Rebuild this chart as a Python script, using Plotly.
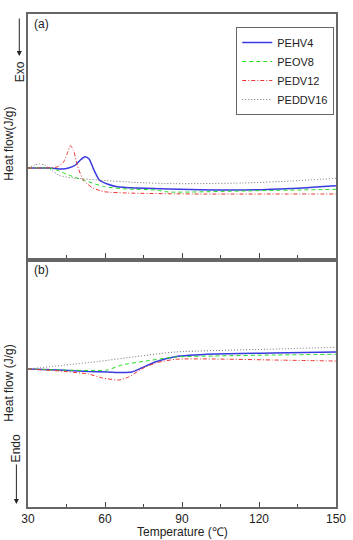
import plotly.graph_objects as go

# ---- data (arbitrary heat-flow units) ----
series_names = ["PEHV4", "PEOV8", "PEDV12", "PEDDV16"]

# panel (a): cooling / exo
a_T_PEHV4 = [30, 38.3, 43.2, 45.8, 48.5, 50.4, 52.2, 53.8, 55.7, 57.8, 60.9, 64.7, 72.3, 84.7, 114.9, 132.6, 150]
a_y_PEHV4 = [0, 0, -0.1, 0, 0.3, 0.8, 1.13, 0.9, -0.2, -1.2, -1.6, -1.87, -2.0, -2.1, -2.2, -2.05, -1.77]

a_T_PEOV8 = [30, 39.4, 45.8, 51.5, 59.8, 68.5, 79.8, 84.7, 113.0, 150]
a_y_PEOV8 = [0, -0.05, -0.7, -1.2, -1.87, -2.1, -2.2, -2.4, -2.3, -2.13]

a_T_PEDV12 = [30, 36.4, 41.3, 43.6, 45.1, 46.5, 47.7, 49.2, 51.5, 55.3, 59.8, 68.5, 94.9, 132.6, 150]
a_y_PEDV12 = [0, 0, 0.1, 0.5, 1.3, 2.23, 1.8, 0.3, -1.2, -2.0, -2.37, -2.5, -2.6, -2.6, -2.6]

a_T_PEDDV16 = [30, 32.6, 34.5, 36.4, 39.1, 42.1, 47.7, 57.2, 72.3, 87.4, 113.8, 132.6, 150]
a_y_PEDDV16 = [0, 0.3, 0.4, 0.3, -0.2, -0.75, -1.0, -1.2, -1.45, -1.57, -1.5, -1.3, -1.03]

# panel (b): heating / endo
b_T_PEHV4 = [30, 42.1, 53.4, 60.9, 66.6, 70.4, 74.2, 79.8, 87.4, 102.5, 125.1, 150]
b_y_PEHV4 = [0, -0.1, -0.25, -0.3, -0.35, -0.3, 0.1, 0.73, 1.23, 1.5, 1.6, 1.7]

b_T_PEOV8 = [30, 42.1, 57.2, 60.9, 66.6, 76.0, 87.4, 102.5, 125.1, 150]
b_y_PEOV8 = [0, -0.1, -0.15, -0.1, 0.4, 0.8, 1.2, 1.3, 1.4, 1.47]

b_T_PEDV12 = [30, 42.1, 53.4, 59.1, 65.4, 69.2, 74.2, 79.8, 87.4, 102.5, 125.1, 150]
b_y_PEDV12 = [0, -0.2, -0.5, -0.9, -1.1, -0.8, 0, 0.6, 0.97, 1.0, 0.9, 0.8]

b_T_PEDDV16 = [30, 57.2, 72.3, 87.4, 122.5, 150]
b_y_PEDDV16 = [0, 0.75, 1.25, 1.7, 1.97, 2.17]

x_ticks = [30, 60, 90, 120, 150]

# ---- styles ----
styles = {
    "PEHV4": dict(color="#3a3ae0", width=1.5, dash="solid"),
    "PEOV8": dict(color="#22dd22", width=1.0, dash="4px,3px"),
    "PEDV12": dict(color="#ee3333", width=1.0, dash="4px,2px,1px,2px"),
    "PEDDV16": dict(color="#707070", width=1.0, dash="1px,2px"),
}

a_data = {
    "PEHV4": (a_T_PEHV4, a_y_PEHV4),
    "PEOV8": (a_T_PEOV8, a_y_PEOV8),
    "PEDV12": (a_T_PEDV12, a_y_PEDV12),
    "PEDDV16": (a_T_PEDDV16, a_y_PEDDV16),
}
b_data = {
    "PEHV4": (b_T_PEHV4, b_y_PEHV4),
    "PEOV8": (b_T_PEOV8, b_y_PEOV8),
    "PEDV12": (b_T_PEDV12, b_y_PEDV12),
    "PEDDV16": (b_T_PEDDV16, b_y_PEDDV16),
}

fig = go.Figure()
for name in series_names:
    x, y = a_data[name]
    fig.add_trace(go.Scatter(x=x, y=y, mode="lines", name=name,
                             line=dict(shape="spline", smoothing=0.6, **styles[name]),
                             xaxis="x", yaxis="y", showlegend=True))
for name in series_names:
    x, y = b_data[name]
    fig.add_trace(go.Scatter(x=x, y=y, mode="lines", name=name,
                             line=dict(shape="spline", smoothing=0.6, **styles[name]),
                             xaxis="x2", yaxis="y2", showlegend=False))

W, H = 353, 540
ml, mr, mt, mb = 28, 7, 14, 33
pw, ph = W - ml - mr, H - mt - mb

def px(xp):
    return (xp - ml) / pw

def py(yp):
    return (H - mb - yp) / ph

axis_common = dict(showline=True, linecolor="#666666", linewidth=1.5, mirror=True,
                   showgrid=False, zeroline=False)
xcommon = dict(axis_common, range=[30, 150], tickvals=x_ticks, ticks="inside",
               ticklen=5, tickwidth=1, tickcolor="#444444",
               minor=dict(tickvals=[45, 75, 105, 135], ticks="inside", ticklen=3,
                          tickwidth=1, tickcolor="#444444"))

top_dom = [py(258), 1]
bot_dom = [0, py(262)]

fig.update_layout(
    width=W, height=H,
    margin=dict(l=ml, r=mr, t=mt, b=mb),
    paper_bgcolor="white", plot_bgcolor="white",
    font=dict(family="Liberation Sans, Arial, sans-serif", size=12, color="#222222"),
    xaxis=dict(xcommon, anchor="y", showticklabels=False),
    yaxis=dict(axis_common, domain=top_dom, range=[-9.0, 15.4], showticklabels=False, ticks=""),
    xaxis2=dict(xcommon, anchor="y2", showticklabels=True, ticklabeloverflow="allow",
                tickfont=dict(size=12, color="#222222")),
    yaxis2=dict(axis_common, domain=bot_dom, range=[-13.8, 10.7], showticklabels=False, ticks=""),
    legend=dict(x=px(243), y=py(27), xanchor="left", yanchor="top",
                bordercolor="#666666", borderwidth=1, bgcolor="white",
                font=dict(size=11, color="#222222"), tracegroupgap=0,
                itemwidth=30),
    showlegend=True,
)

ann = []
ann.append(dict(text="(a)", x=px(32), y=py(24), xref="paper", yref="paper",
                xanchor="left", yanchor="middle", showarrow=False, font=dict(size=12)))
ann.append(dict(text="(b)", x=px(32), y=py(270), xref="paper", yref="paper",
                xanchor="left", yanchor="middle", showarrow=False, font=dict(size=12)))
ann.append(dict(text="Temperature (℃)", x=0.5, y=py(532), xref="paper", yref="paper",
                xanchor="center", yanchor="middle", showarrow=False, font=dict(size=12)))
ann.append(dict(text="Heat flow(J/g)", x=px(8), y=py(144), xref="paper", yref="paper",
                textangle=-90, xanchor="center", yanchor="middle", showarrow=False,
                font=dict(size=12)))
ann.append(dict(text="Exo", x=px(20), y=py(72), xref="paper", yref="paper",
                textangle=-90, xanchor="center", yanchor="middle", showarrow=False,
                font=dict(size=12)))
ann.append(dict(text="Heat flow (J/g)", x=px(8), y=py(383), xref="paper", yref="paper",
                textangle=-90, xanchor="center", yanchor="middle", showarrow=False,
                font=dict(size=12)))
ann.append(dict(text="Endo", x=px(16), y=py(448), xref="paper", yref="paper",
                textangle=-90, xanchor="center", yanchor="middle", showarrow=False,
                font=dict(size=12)))
# arrows
ann.append(dict(text="", x=px(19), y=py(56), xref="paper", yref="paper",
                ax=0, ay=-39, showarrow=True, arrowhead=2, arrowsize=1, arrowwidth=1,
                arrowcolor="#222222"))
ann.append(dict(text="", x=px(16), y=py(504), xref="paper", yref="paper",
                ax=0, ay=-41, showarrow=True, arrowhead=2, arrowsize=1, arrowwidth=1,
                arrowcolor="#222222"))
fig.update_layout(annotations=ann)

fig.write_html("out.html")
